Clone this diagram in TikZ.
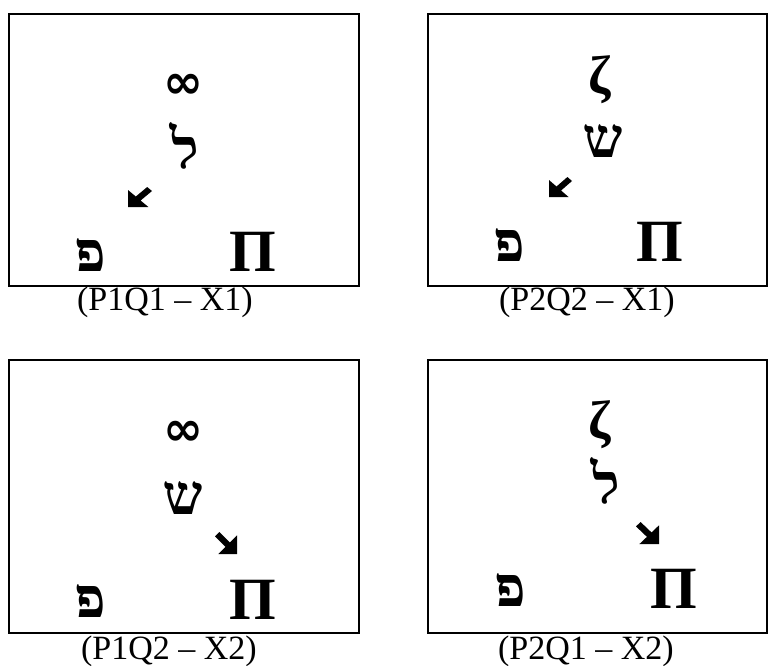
\documentclass[tikz,border=0pt]{standalone}
\usepackage{fontspec}
\setmainfont{Liberation Serif}
\newfontfamily\heb[Script=Hebrew,FakeSlant=-0.13]{Liberation Serif}
\newfontfamily\symf{DejaVu Sans}
\TeXXeTstate=1
\begin{document}
\begin{tikzpicture}[x=1pt,y=-1pt,
  panel/.style={draw=black,line width=2pt},
  captext/.style={font=\fontsize{34}{40}\selectfont,inner sep=0pt},
  hebl/.style={font=\heb\bfseries\fontsize{56}{60}\selectfont,inner sep=0pt},
  pil/.style={font=\bfseries\fontsize{60}{66}\selectfont,inner sep=0pt},
  infl/.style={font=\symf\bfseries\fontsize{48}{52}\selectfont,inner sep=0pt},
  zetal/.style={font=\bfseries\fontsize{54}{58}\selectfont,inner sep=0pt}]
\useasboundingbox (0,0) rectangle (768,665);
\newcommand\arrowshape{(0.2,0) -- (0.675,0.475) -- (1,0.15) -- (1,1) -- (0.15,1) -- (0.475,0.675) -- (0,0.2) -- cycle}
% panel 1
\draw[panel] (9,14) rectangle (359,286);
\node[infl] (a1) at (183,86) {∞};
\node[hebl] (b1) at (189,146) {ל};
\node[hebl] (c1) at (93,255) {פ};
\node[pil] (d1) at (253,252) {Π};
\fill[shift={(152,187)},xscale=-24,yscale=20] \arrowshape;
\node[captext] (l1) at (165,302) {(P1Q1 – X1)};
% panel 2
\draw[panel] (428,14) rectangle (767,286);
\node[zetal] (a2) at (600,80) {ζ};
\node[hebl] (b2) at (606,141) {ש};
\node[hebl] (c2) at (512,245) {פ};
\node[pil] (d2) at (660,242) {Π};
\fill[shift={(572,177)},xscale=-23,yscale=20] \arrowshape;
\node[captext] (l2) at (587,302) {(P2Q2 – X1)};
% panel 3
\draw[panel] (9,360) rectangle (359,633);
\node[infl] (a3) at (183,433) {∞};
\node[hebl] (b3) at (186,498) {ש};
\node[hebl] (c3) at (93,601) {פ};
\node[pil] (d3) at (253,600) {Π};
\fill[shift={(215,532)},xscale=22,yscale=22] \arrowshape;
\node[captext] (l3) at (169,651) {(P1Q2 – X2)};
% panel 4
\draw[panel] (428,360) rectangle (767,633);
\node[zetal] (a4) at (600,425) {ζ};
\node[hebl] (b4) at (610,481) {ל};
\node[hebl] (c4) at (513,590) {פ};
\node[pil] (d4) at (674,589) {Π};
\fill[shift={(636,522)},xscale=23,yscale=22] \arrowshape;
\node[captext] (l4) at (586,651) {(P2Q1 – X2)};
\end{tikzpicture}
\end{document}
